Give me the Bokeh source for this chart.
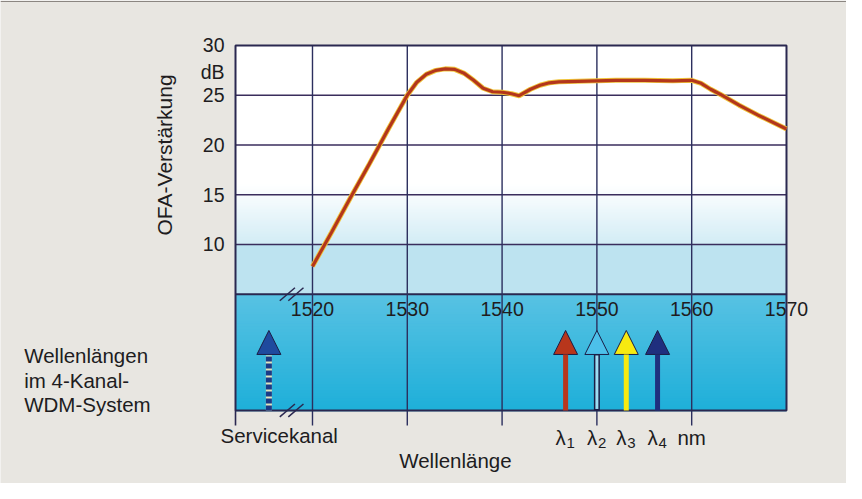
import math
from bokeh.plotting import figure
from bokeh.models import Range1d, Label, Arrow, NormalHead
from bokeh.embed import file_html
from bokeh.resources import INLINE

# ---- data ----
wavelength_nm = [1520, 1522, 1524, 1526, 1528, 1529, 1530, 1531, 1532, 1533, 1534, 1535,
                 1536, 1537, 1538, 1539, 1540, 1541, 1541.8, 1543, 1544, 1545, 1546, 1548,
                 1550, 1552, 1555, 1558, 1560, 1561, 1562, 1563, 1565, 1567, 1570]
gain_db = [7.8, 11.2, 14.7, 18.1, 21.6, 23.3, 25.0, 26.3, 27.1, 27.5, 27.65, 27.6,
           27.2, 26.5, 25.7, 25.35, 25.3, 25.15, 24.95, 25.6, 26.0, 26.25, 26.35, 26.4,
           26.45, 26.5, 26.5, 26.45, 26.5, 26.2, 25.6, 25.1, 24.0, 23.0, 21.6]

x_ticks = [1520, 1530, 1540, 1550, 1560, 1570]
x_tick_labels = ["1520", "1530", "1540", "1550", "1560", "1570"]
y_ticks = [10, 15, 20, 25, 30]
y_tick_labels = ["10", "15", "20", "25", "30"]
grid_db = [5, 10, 15, 20, 25]

channel_nm = [1546.7, 1550.0, 1553.1, 1556.4]
channel_subscripts = ["1", "2", "3", "4"]
channel_colors = ["#b8361c", "#4cc0ea", "#f7ea10", "#1f2f7e"]
service_nm = 1515.4
break_nm = 1517.8

left_text = ["Wellenlängen", "im 4-Kanal-", "WDM-System"]
left_text_y = [-1.16, -3.67, -6.08]

# plot-area limits (data units)
X0, X1 = 1511.88, 1570
Y0, Y1 = -6.68, 30
ARROW_TIP = 1.36
HEAD_BASE = -1.15

# whole-canvas ranges
XR = (1487.09, 1576.33)
YR = (-14.02, 34.52)

FONT = "Liberation Sans"
TXT = "#201c1e"
FRAME = "#2a2850"
PAGE = "#e8e6e1"

p = figure(width=846, height=483, x_range=Range1d(*XR), y_range=Range1d(*YR),
           output_backend="svg", toolbar_location=None, min_border=0,
           background_fill_color=PAGE, border_fill_color=PAGE)
p.axis.visible = False
p.grid.visible = False
p.outline_line_color = None

# ---- background of the plot area ----
def mix(c1, c2, t):
    a = [int(c1[i:i + 2], 16) for i in (1, 3, 5)]
    b = [int(c2[i:i + 2], 16) for i in (1, 3, 5)]
    return "#%02x%02x%02x" % tuple(round(a[k] + (b[k] - a[k]) * t) for k in range(3))

p.quad(left=X0, right=X1, bottom=10, top=Y1, fill_color="white", line_color=None)
n = 40
for i in range(n):
    lo = 10 + (16.0 - 10) * i / n
    hi = 10 + (16.0 - 10) * (i + 1) / n
    p.quad(left=X0, right=X1, bottom=lo, top=hi + 0.08, fill_color=mix("#d2ecf5", "#ffffff", (i + 0.5) / n),
           line_color=None)
p.quad(left=X0, right=X1, bottom=5, top=10, fill_color="#bde3f0", line_color=None)
for i in range(n):
    hi = 5 - (5 - Y0) * i / n
    lo = 5 - (5 - Y0) * (i + 1) / n
    p.quad(left=X0, right=X1, bottom=lo - 0.08, top=hi, fill_color=mix("#58c2e3", "#1eafd9", (i + 0.5) / n),
           line_color=None)

# ---- grid ----
p.segment(x0=X0, x1=X1, y0=grid_db[1:], y1=grid_db[1:], line_color="#3a2d5c", line_width=1.4)
p.segment(x0=X0, x1=X1, y0=grid_db[0], y1=grid_db[0], line_color=FRAME, line_width=1.8)
p.segment(x0=x_ticks[:-1], x1=x_ticks[:-1], y0=Y0 - 1.5, y1=Y1, line_color="#2c2f5e", line_width=1.4)
p.segment(x0=X0, x1=X0, y0=Y0 - 1.5, y1=Y0, line_color=FRAME, line_width=1.6)
p.quad(left=X0, right=X1, bottom=Y0, top=Y1, fill_color=None, line_color=FRAME, line_width=2)

# faint outer frame of the figure page
p.segment(x0=XR[0], x1=XR[1], y0=YR[1] - 0.1, y1=YR[1] - 0.1, line_color="#8a8580", line_width=1)

# ---- gain curve ----
p.line(wavelength_nm, gain_db, line_color="#f0c43a", line_width=5)
p.line(wavelength_nm, gain_db, line_color="#b3361c", line_width=3.2)

# ---- arrows ----
OUT = "#1b1d45"
for x, c in zip(channel_nm, channel_colors):
    is_hollow = c == channel_colors[1]
    p.add_layout(Arrow(end=NormalHead(size=24, fill_color=c, line_color=OUT, line_width=1),
                       x_start=x, y_start=Y0, x_end=x, y_end=ARROW_TIP,
                       line_color=OUT if is_hollow else c, line_width=6 if is_hollow else 5))
    if is_hollow:
        p.add_layout(Arrow(end=None, x_start=x, y_start=Y0 + 0.15, x_end=x, y_end=HEAD_BASE,
                           line_color="#9ddcf2", line_width=3))

p.add_layout(Arrow(end=None, x_start=service_nm, y_start=Y0, x_end=service_nm, y_end=HEAD_BASE,
                   line_color="#dfe4bc", line_width=6))
p.add_layout(Arrow(end=NormalHead(size=24, fill_color="#1f4a9e", line_color=OUT, line_width=1),
                   x_start=service_nm, y_start=Y0, x_end=service_nm, y_end=ARROW_TIP,
                   line_color="#1a3a86", line_width=6, line_dash="5 2"))

# ---- axis break marks ----
for yb in (5, Y0):
    for dx in (-0.45, 0.45):
        p.add_layout(Arrow(start=None, end=None,
                           x_start=break_nm + dx - 0.8, y_start=yb - 0.65,
                           x_end=break_nm + dx + 0.8, y_end=yb + 0.65,
                           line_color=FRAME, line_width=1.5))

# ---- texts ----
def lab(x, y, t, align="center", size="20.5px", angle=0.0, xoff=0, yoff=0):
    p.add_layout(Label(x=x, y=y, text=t, text_align=align, text_baseline="middle", angle=angle,
                       x_offset=xoff, y_offset=yoff,
                       text_font=FONT, text_font_size=size, text_color=TXT))

for x, t in zip(x_ticks, x_tick_labels):
    lab(x, 3.47, t, size="19.5px")
for y, t in zip(y_ticks, y_tick_labels):
    lab(1510.72, y, t, align="right", size="19.5px")
lab(1510.72, 27.3, "dB", align="right", size="19.5px")
lab(1504.4, 19.0, "OFA-Verstärkung", size="21px", angle=math.pi / 2)
for yy, t in zip(left_text_y, left_text):
    lab(1489.59, yy, t, align="left")
lab(1510.3, -9.2, "Servicekanal", align="left")
for x, s in zip(channel_nm, channel_subscripts):
    lab(x, -9.4, "λ", align="left", xoff=-10)
    lab(x, -9.4, s, align="left", size="15px", xoff=1, yoff=-5)
lab(1560, -9.4, "nm")
lab(1535.08, -11.71, "Wellenlänge")

open("out.html", "w").write(file_html(p, INLINE))
